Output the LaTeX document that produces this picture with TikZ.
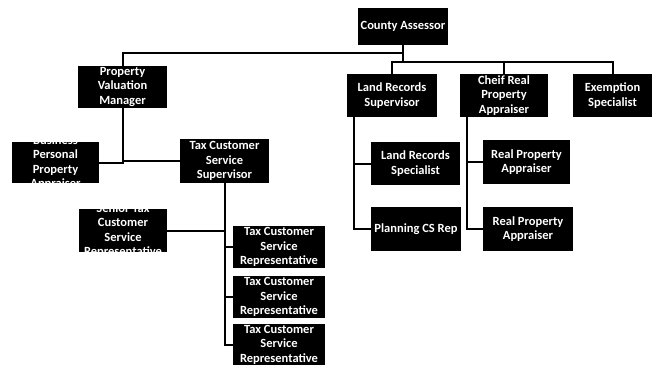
\documentclass[tikz,border=0pt]{standalone}
\usepackage{fontspec}
\setmainfont{Carlito}
\usepackage{tikz}
\usetikzlibrary{positioning}
\usetikzlibrary{calc}

% one black post box, its text clipped to the box
\newcommand{\jobnode}[5]{%
  \node[jobbox, minimum width=#3pt, minimum height=#4pt,
    path picture={\node[jobtext] at (path picture bounding box.center) {#5};}]
    (#1) at (#2) {};}

\begin{document}
\begin{tikzpicture}[x=1pt, y=-1pt,
  jobbox/.style={fill=black, draw=none, inner sep=0pt},
  jobtext/.style={text=white, align=center, inner sep=0pt,
    font=\fontsize{12.5}{14.5}\selectfont\bfseries},
  link/.style={draw=black, line width=2pt}]
\useasboundingbox (0,0) rectangle (652,366);

\jobnode{ca}{403,26.5}{90}{37}{County Assessor}
\jobnode{pvm}{122.5,87}{89}{42}{Property\\Valuation\\Manager}
\jobnode{lrs}{392,95.5}{90}{43}{Land Records\\Supervisor}
\jobnode{crpa}{504,95.5}{88}{43}{Cheif Real\\Property\\Appraiser}
\jobnode{es}{612.5,95.5}{79}{43}{Exemption\\Specialist}

\jobnode{bppa}{55.5,162.5}{87}{41}{Business\\Personal\\Property\\Appraiser}
\jobnode{tcss}{224.5,161}{89}{44}{Tax Customer\\Service\\Supervisor}
\jobnode{lrsp}{415.5,163.5}{89}{43}{Land Records\\Specialist}
\jobnode{rpa1}{526.5,162}{87}{44}{Real Property\\Appraiser}
\jobnode{pcr}{416,229}{90}{44}{Planning CS Rep}
\jobnode{rpa2}{528,229}{90}{44}{Real Property\\Appraiser}

\jobnode{stcsr}{123,230.5}{88}{43}{Senior Tax\\Customer\\Service\\Representative}
\jobnode{tcsr1}{279,247}{92}{42}{Tax Customer\\Service\\Representative}
\jobnode{tcsr2}{279,297}{92}{42}{Tax Customer\\Service\\Representative}
\jobnode{tcsr3}{279,344.5}{92}{41}{Tax Customer\\Service\\Representative}

% top level
\coordinate (top) at (403,53);
\coordinate (bus) at (403,62);
\draw[link] (ca.south) -- (bus);
\draw[link] (top) -| (pvm.north);
\draw[link] (bus) -| (lrs.north);
\draw[link] (bus) -| (crpa.north);
\draw[link] (bus) -| (es.north);

% under the valuation manager
\draw[link] (pvm.south) |- (bppa.east);
\draw[link] (pvm.south) |- (tcss.west);
\draw[link] (tcss.south) |- (stcsr.east);
\draw[link] (tcss.south) |- (tcsr1.west);
\draw[link] (tcss.south) |- (tcsr2.west);
\draw[link] (tcss.south) |- (tcsr3.west);

% right hand side
\draw[link] ([xshift=7pt]lrs.south west) |- (lrsp.west);
\draw[link] ([xshift=7pt]lrs.south west) |- (pcr.west);
\draw[link] ([xshift=7pt]crpa.south west) |- (rpa1.west);
\draw[link] ([xshift=7pt]crpa.south west) |- (rpa2.west);
\end{tikzpicture}
\end{document}
